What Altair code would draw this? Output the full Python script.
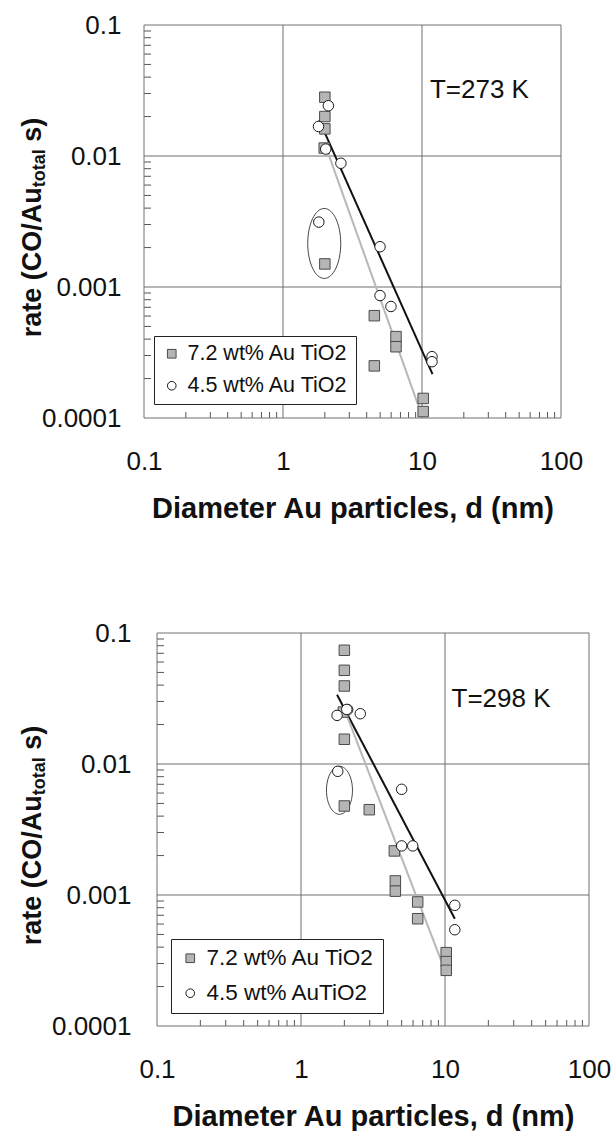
import altair as alt
import pandas as pd

FONT = "Liberation Sans"
INK = "#111111"
GRID = "#6e6e6e"
FRAME = "#707070"

# ---------------- data: top panel (T = 273 K) ----------------
top_names = ["7.2 wt% Au TiO2", "4.5 wt% Au TiO2"]
top_sq_d = [2.0, 2.0, 2.0, 1.98, 2.0, 4.54, 6.5, 6.5, 4.54, 10.2, 10.2]
top_sq_r = [0.0281, 0.0200, 0.0161, 0.0115, 0.0015, 0.000604, 0.000418, 0.00035, 0.00025, 0.000141, 0.000112]
top_ci_d = [2.12, 1.8, 2.03, 2.61, 1.81, 4.99, 4.99, 5.98, 11.8, 11.8]
top_ci_r = [0.0242, 0.0168, 0.0113, 0.0088, 0.00313, 0.00203, 0.00086, 0.00071, 0.000294, 0.000269]
top_black_d = [1.82, 11.9]
top_black_r = [0.0188, 0.000216]
top_gray_d = [2.05, 9.67]
top_gray_r = [0.0115, 0.000115]
top_ell_d = [1.98]
top_ell_r = [0.00215]
top_label = ["T=273 K"]
top_label_d = [11.4]
top_label_r = [0.0319]

# ---------------- data: bottom panel (T = 298 K) ----------------
bot_names = ["7.2 wt% Au TiO2", "4.5 wt% AuTiO2"]
bot_sq_d = [2.0, 2.0, 2.0, 1.97, 2.0, 2.0, 2.98, 4.45, 4.52, 4.52, 6.46, 6.46, 10.2, 10.2, 10.2]
bot_sq_r = [0.0738, 0.0519, 0.0394, 0.0249, 0.01545, 0.00478, 0.00448, 0.00217, 0.00128, 0.00107,
            0.000885, 0.000659, 0.000363, 0.00031, 0.000266]
bot_ci_d = [1.78, 2.11, 2.08, 2.58, 1.80, 5.0, 5.0, 5.97, 11.7, 11.7]
bot_ci_r = [0.0235, 0.026, 0.0261, 0.0242, 0.00879, 0.00641, 0.00237, 0.00237, 0.000834, 0.000543]
bot_black_d = [1.78, 11.7]
bot_black_r = [0.0338, 0.000659]
bot_gray_d = [2.05, 9.73]
bot_gray_r = [0.0245, 0.000286]
bot_ell_d = [1.85]
bot_ell_r = [0.0063]
bot_label = ["T=298 K"]
bot_label_d = [11.1]
bot_label_r = [0.0315]

# axis ticks
x_decades = [0.1, 1, 10, 100]
y_decades = [0.0001, 0.001, 0.01, 0.1]
x_grid = [1, 10]
y_grid = [0.001, 0.01]
x_minor = [m * d for d in [0.1, 1, 10] for m in range(2, 10)]
y_minor = [m * d for d in [0.0001, 0.001, 0.01] for m in range(2, 10)]

x_title = "Diameter Au particles, d (nm)"
y_title_parts = ["rate (CO/Au", "total", "s)"]

ARIAL_BOLD = {" ": 0.278, "(": 0.333, ")": 0.333, "/": 0.278, "A": 0.722, "C": 0.722,
              "O": 0.778, "a": 0.556, "e": 0.556, "l": 0.278, "o": 0.611, "r": 0.389,
              "s": 0.556, "t": 0.333, "u": 0.611}


def text_w(s, size):
    return sum(ARIAL_BOLD.get(c, 0.6) for c in s) * size


def ellipse_path(rx):
    k = 0.5523
    return (f"M0,-1 C{k*rx:.4f},-1 {rx:.4f},{-k:.4f} {rx:.4f},0 "
            f"C{rx:.4f},{k:.4f} {k*rx:.4f},1 0,1 "
            f"C{-k*rx:.4f},1 {-rx:.4f},{k:.4f} {-rx:.4f},0 "
            f"C{-rx:.4f},{-k:.4f} {-k*rx:.4f},-1 0,-1 Z")


def panel(key, names, sq_d, sq_r, ci_d, ci_r, black, gray, ell, ell_w, ell_h,
          label, off, W, H, ylab_pad, title_cx, leg_x, leg_y, leg_font, leg_rowpad, leg_pad):
    # plot frame runs from x=off to x=off+W inside a view of width off+W
    VW = off + W
    xs = alt.Scale(type="log", domain=[0.1, 100], nice=False, range=[off, VW])
    ys = alt.Scale(type="log", domain=[0.0001, 0.1], nice=False)
    xaxis = alt.Axis(values=x_decades, format=".1~f", grid=False, ticks=False, domain=False,
                     labelFont=FONT, labelFontSize=26, labelColor=INK, labelPadding=30,
                     labelFlush=False, labelOverlap=False,
                     title=x_title, titleFont=FONT, titleFontSize=29, titleFontWeight="bold",
                     titleColor=INK, titlePadding=20)
    yaxis = alt.Axis(values=y_decades, format=".4~f", grid=False, ticks=False, domain=False,
                     labelFont=FONT, labelFontSize=26, labelColor=INK, labelPadding=ylab_pad,
                     labelFlush=False, labelOverlap=False, title=None)

    def X(f):
        return alt.X(f, type="quantitative", scale=xs, axis=xaxis)

    def Y(f):
        return alt.Y(f, type="quantitative", scale=ys, axis=yaxis)

    sfield = "series_" + key
    pts = pd.DataFrame({
        "d": sq_d + ci_d,
        "r": sq_r + ci_r,
        sfield: [names[0]] * len(sq_d) + [names[1]] * len(ci_d),
    })
    leg = alt.Legend(orient="none", legendX=leg_x, legendY=leg_y, title=None,
                     fillColor="white", strokeColor="#222222", padding=leg_pad,
                     symbolOffset=0, labelFont=FONT, labelFontSize=leg_font, labelColor=INK,
                     labelLimit=400, rowPadding=leg_rowpad, symbolSize=75,
                     symbolStrokeWidth=1, labelOffset=5)
    dom = names
    points = alt.Chart(pts).mark_point(filled=True, opacity=1, strokeWidth=1, size=110).encode(
        x=X("d"), y=Y("r"),
        shape=alt.Shape(f"{sfield}:N", scale=alt.Scale(domain=dom, range=["square", "circle"]), legend=leg),
        fill=alt.Fill(f"{sfield}:N", scale=alt.Scale(domain=dom, range=["#b5b5b5", "#ffffff"]), legend=leg),
        stroke=alt.Stroke(f"{sfield}:N", scale=alt.Scale(domain=dom, range=["#4a4a4a", "#1a1a1a"]), legend=leg),
    )

    gx = alt.Chart(pd.DataFrame({"v": x_grid})).mark_rule(color=GRID, strokeWidth=1).encode(x=X("v"))
    gy = alt.Chart(pd.DataFrame({"v": y_grid})).mark_rule(color=GRID, strokeWidth=1).encode(
        y=Y("v"), x=alt.value(off), x2=alt.value(VW))
    tx = alt.Chart(pd.DataFrame({"v": x_minor})).mark_rule(color="#555555", strokeWidth=1).encode(
        x=X("v"), y=alt.value(H - 6), y2=alt.value(H))
    ty = alt.Chart(pd.DataFrame({"v": y_minor})).mark_rule(color="#555555", strokeWidth=1).encode(
        y=Y("v"), x=alt.value(off), x2=alt.value(off + 7))
    frame = alt.Chart(pd.DataFrame({"k": [0]})).mark_rect(
        filled=False, stroke=FRAME, strokeWidth=1).encode(
        x=alt.value(off), x2=alt.value(VW), y=alt.value(0), y2=alt.value(H))

    lines = []
    for (dd, rr), col in [(black, "#111111"), (gray, "#b8b8b8")]:
        lines.append(alt.Chart(pd.DataFrame({"d": dd, "r": rr})).mark_line(
            color=col, strokeWidth=2).encode(x=X("d"), y=Y("r")))

    ell_df = pd.DataFrame({"d": ell[0], "r": ell[1]})
    ellipse = alt.Chart(ell_df).mark_point(
        shape=ellipse_path(ell_w / ell_h), size=ell_h * ell_h, filled=False,
        stroke="#444444", strokeWidth=1, opacity=1).encode(x=X("d"), y=Y("r"))

    lab_df = pd.DataFrame({"t": label[0], "d": label[1], "r": label[2]})
    tlabel = alt.Chart(lab_df).mark_text(align="left", baseline="middle", font=FONT,
                                         fontSize=26, color=INK).encode(
        x=X("d"), y=Y("r"), text="t:N")

    # y-axis title with subscript, as rotated text pieces (space before "s)" as a gap)
    main_fs, sub_fs = 27, 18
    gap = ARIAL_BOLD[" "] * main_fs
    widths = [text_w(y_title_parts[0], main_fs), text_w(y_title_parts[1], sub_fs),
              text_w(y_title_parts[2], main_fs)]
    L = sum(widths) + gap
    yc = H / 2 + 6
    start = yc + L / 2
    tparts = []
    offs = [0, widths[0], widths[0] + widths[1] + gap]
    for i, (part, fs) in enumerate(zip(y_title_parts, [main_fs, sub_fs, main_fs])):
        xv = title_cx + (7 if i == 1 else 0)
        tparts.append(alt.Chart(pd.DataFrame({"t": [part]})).mark_text(
            angle=270, align="left", baseline="middle", font=FONT, fontSize=fs,
            fontWeight="bold", color=INK).encode(
            text="t:N", x=alt.value(xv), y=alt.value(start - offs[i])))

    layer = alt.layer(gx, gy, tx, ty, frame, ellipse, *lines, points, tlabel, *tparts).properties(
        width=VW, height=H)
    return layer


top = panel("a", top_names, top_sq_d, top_sq_r, top_ci_d, top_ci_r,
            (top_black_d, top_black_r), (top_gray_d, top_gray_r),
            (top_ell_d, top_ell_r), 33, 70,
            (top_label, top_label_d, top_label_r),
            0, 417, 393, 23, -111, 10, 311, 21.5, 9, 7)
bot = panel("b", bot_names, bot_sq_d, bot_sq_r, bot_ci_d, bot_ci_r,
            (bot_black_d, bot_black_r), (bot_gray_d, bot_gray_r),
            (bot_ell_d, bot_ell_r), 26, 48,
            (bot_label, bot_label_d, bot_label_r),
            13, 432, 393, 13, -111, 27, 306, 22.5, 12, 8)

res = dict(x="independent", y="independent", shape="independent", fill="independent",
           stroke="independent")

chart = alt.concat(top, bot, columns=1, spacing=97).resolve_scale(**res).properties(
    padding={"left": 18, "top": 12, "right": 0, "bottom": 0},
    background="white",
).configure_view(stroke="transparent", strokeWidth=0)

chart.save("out.html", embed_options={"renderer": "svg", "actions": False})
